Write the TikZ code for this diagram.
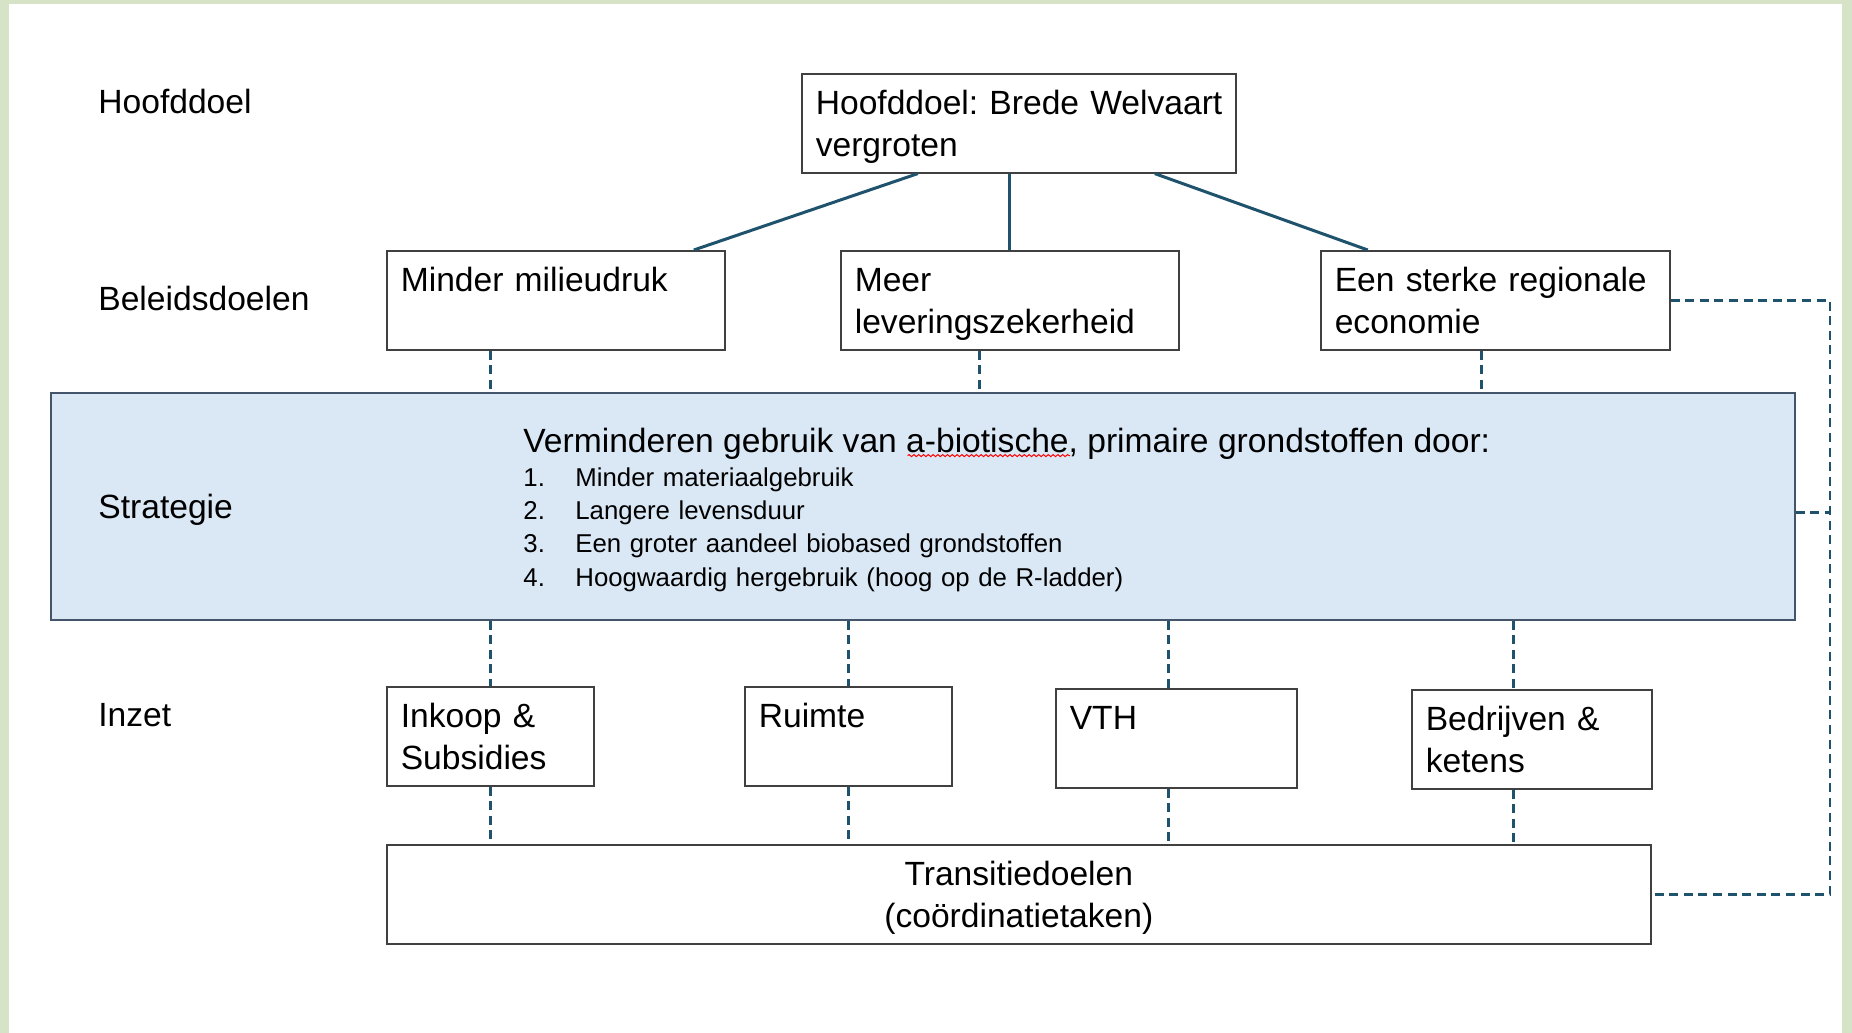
\documentclass[tikz,border=0pt]{standalone}
\usepackage{fontspec}
\setmainfont{Liberation Sans}
\usetikzlibrary{decorations.pathmorphing}

\definecolor{framegreen}{RGB}{214,227,199}
\definecolor{stratblue}{RGB}{218,232,246}
\definecolor{boxline}{RGB}{64,64,64}
\definecolor{stratline}{RGB}{68,84,106}
\definecolor{linkteal}{RGB}{31,82,108}

\newcommand{\mainsize}{\fontsize{16.8}{21}\selectfont}
\newcommand{\listsize}{\fontsize{12.9}{16.7}\selectfont}

\frenchspacing
\hyphenpenalty=10000

\tikzset{
  goalbox/.style={draw=boxline, line width=0.8pt, fill=white, anchor=north west,
    text width=#1, align=left, inner xsep=7pt, inner ysep=0pt,
    text height=20.5pt, text depth=29pt, font=\mainsize},
  sidelabel/.style={anchor=base west, inner sep=0pt, font=\mainsize},
  link/.style={draw=linkteal, line width=1.5pt},
  dashln/.style={draw=linkteal, line width=1.4pt, dash pattern=on 4.5pt off 2.8pt},
}

\begin{document}
\begin{tikzpicture}[x=0.5pt,y=-0.5pt]
    \useasboundingbox (0,0) rectangle (1852,1033);
    \fill[framegreen] (0,0) rectangle (1852,1033);
    \fill[white] (9,4) rectangle (1842,1033);

    % strategie blok
    \node[draw=stratline, line width=0.8pt, fill=stratblue, anchor=north west,
      minimum width=872pt, minimum height=113.5pt, inner sep=0pt] (strat) at (50,392) {};
    \node[anchor=base west, inner sep=0pt, font=\mainsize] (kop) at (523,452)
      {Verminderen gebruik van a-biotische, primaire grondstoffen door:};
    \draw[red, line width=0.5pt, decorate, decoration={snake, amplitude=0.5pt, segment length=2.4pt}]
      ([xshift=192.3pt, yshift=-1.8pt]kop.base west) -- ++(81.2pt,0);
    \node[anchor=base west, inner sep=0pt, font=\listsize, text width=400pt, align=left] (lijst) at (523,486)
      {\makebox[26pt][l]{1.}Minder materiaalgebruik\\
       \makebox[26pt][l]{2.}Langere levensduur\\
       \makebox[26pt][l]{3.}Een groter aandeel biobased grondstoffen\\
       \makebox[26pt][l]{4.}Hoogwaardig hergebruik (hoog op de R-ladder)};

    % niveaus
    \node[sidelabel] (lhoofd) at (98,113) {Hoofddoel};
    \node[sidelabel] (lbeleid) at (98,310) {Beleidsdoelen};
    \node[sidelabel] (lstrat) at (98,518) {Strategie};
    \node[sidelabel] (linzet) at (98,726) {Inzet};

    % doelen
    \node[goalbox=203pt] (hoofd) at (801,73) {\mbox{Hoofddoel: Brede Welvaart}\\vergroten};
    \node[goalbox=155pt] (minder) at (386,250) {Minder milieudruk};
    \node[goalbox=155pt] (meer) at (840,250) {Meer\\leveringszekerheid};
    \node[goalbox=160.5pt] (een) at (1320,250) {Een sterke regionale\\economie};

    % inzet
    \node[goalbox=89.5pt] (inkoop) at (386,686) {Inkoop \&\\Subsidies};
    \node[goalbox=89.5pt] (ruimte) at (744,686) {Ruimte};
    \node[goalbox=106.5pt] (vth) at (1055,688) {VTH};
    \node[goalbox=106pt] (bedr) at (1411,689) {Bedrijven \&\\ketens};
    \node[goalbox=618pt, align=center] (trans) at (386,844) {Transitiedoelen\\(coördinatietaken)};

    \draw[link] ([xshift=-50.5pt]hoofd.south) -- ([xshift=69pt]minder.north);
    \draw[link] (meer.north) -- (meer.north |- hoofd.south);
    \draw[link] ([xshift=68pt]hoofd.south) -- ([xshift=-63.75pt]een.north);

    \draw[dashln] (inkoop.north |- minder.south) -- (inkoop.north |- strat.north);
    \draw[dashln] ([xshift=-15pt]meer.south) -- ([xshift=-15pt]meer.south |- strat.north);
    \draw[dashln] ([xshift=-7pt]een.south) -- ([xshift=-7pt]een.south |- strat.north);
    \foreach \b/\dx in {inkoop/0pt, ruimte/0pt, vth/-3.75pt, bedr/-9pt} {
      \draw[dashln] ([xshift=\dx]\b.north |- strat.south) -- ([xshift=\dx]\b.north);
      \draw[dashln] ([xshift=\dx]\b.south) -- ([xshift=\dx]\b.south |- trans.north);
    }

    % terugkoppeling rechts
    \coordinate (rand) at (1830,0);
    \draw[dashln] (een.east) -- (een.east -| rand) -- (trans.east -| rand) -- (trans.east);
    \draw[dashln] ([yshift=-3pt]strat.east) -- ([yshift=-3pt]strat.east -| rand);
\end{tikzpicture}
\end{document}
